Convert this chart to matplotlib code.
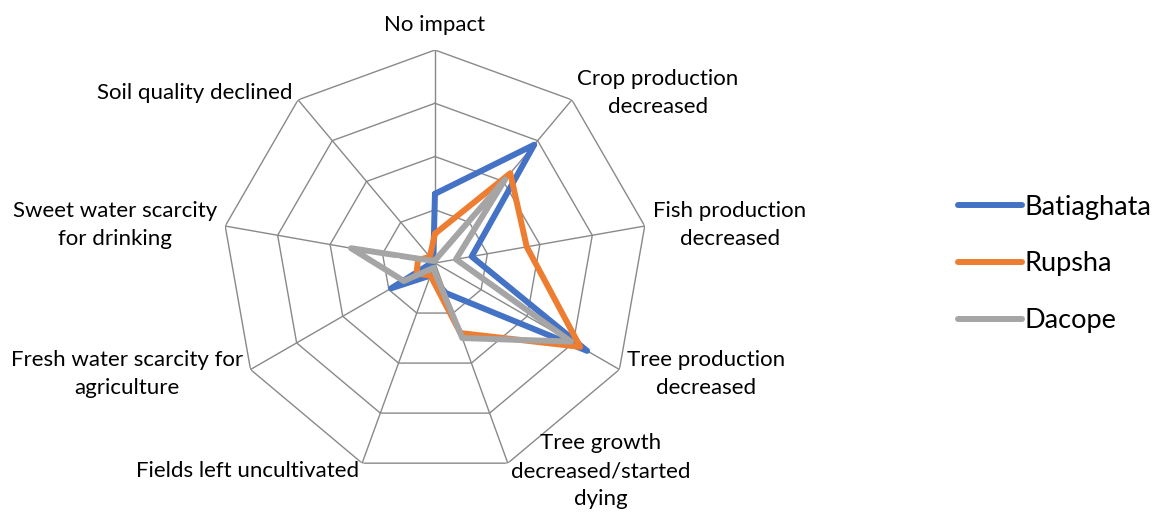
import numpy as np
import matplotlib.pyplot as plt

plt.rcParams['font.family'] = ['Lato', 'DejaVu Sans']

# categories (clockwise from top)
categories = ['No impact', 'Crop production\ndecreased', 'Fish production\ndecreased',
              'Tree production\ndecreased', 'Tree growth\ndecreased/started\ndying',
              'Fields left uncultivated', 'Fresh water scarcity for\nagriculture',
              'Sweet water scarcity\nfor drinking', 'Soil quality declined']

batiaghata = [26, 58, 14, 66, 12, 5, 19, 1, 1]
rupsha = [11, 44, 35, 63, 28, 5, 8, 6.5, 3]
dacope = [1, 41, 8, 59, 30, 2, 13.5, 32, 1]

series_names = ['Batiaghata', 'Rupsha', 'Dacope']
series_colors = ['#4472C4', '#ED7D31', '#A5A5A5']
rmax = 80
rings = [20, 40, 60, 80]

n = len(categories)
theta = np.arange(n) * 2 * np.pi / n
theta_c = np.append(theta, theta[0])

fig = plt.figure(figsize=(11.59, 5.12), dpi=100)
ax = fig.add_axes([0.1915, 0.0703, 0.3676, 0.832], projection='polar')
ax.set_theta_zero_location('N')
ax.set_theta_direction(-1)
ax.set_ylim(0, rmax)
ax.grid(False)
ax.spines['polar'].set_visible(False)
ax.set_xticks([])
ax.set_yticks([])

# polygon grid
for r in rings:
    ax.plot(theta_c, [r] * (n + 1), color='#898989', lw=1.0, zorder=1)
for t in theta:
    ax.plot([t, t], [0, rmax], color='#898989', lw=1.0, zorder=1)

# series
for vals, name, col in zip([batiaghata, rupsha, dacope], series_names, series_colors):
    v = np.append(vals, vals[0])
    ax.plot(theta_c, v, color=col, lw=4.3, label=name,
            solid_joinstyle='round', solid_capstyle='round', zorder=3)

ax.text(np.deg2rad(267), 14.3, '0', color='white', fontsize=11,
        ha='center', va='center', zorder=4)

# category labels
for t, lab in zip(theta, categories):
    s, c = np.sin(t), np.cos(t)
    if s > 0.1:
        ha = 'left'
    elif s < -0.1:
        ha = 'right'
    else:
        ha = 'center'
    va = 'center'
    r = rmax * 1.04
    if c > 0.95:
        va = 'bottom'
        r = rmax * 1.07
    ax.text(t, r, lab, ha=ha, va=va, fontsize=16, multialignment='center',
            linespacing=1.5, color='#000000')

leg = fig.legend(loc='center left', bbox_to_anchor=(934 / 1159, 1 - 264 / 512),
                 frameon=False, fontsize=19.5, handlelength=2.35, handletextpad=0.1,
                 labelspacing=1.17)

plt.savefig('out.png', dpi=100)
